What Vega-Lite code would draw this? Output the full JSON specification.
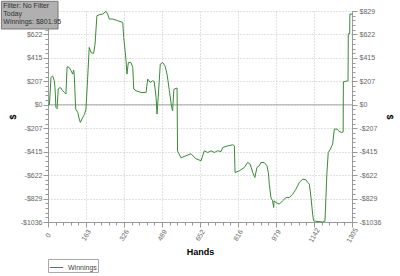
{
  "$schema": "https://vega.github.io/schema/vega-lite/v6.json",
  "width": 304,
  "height": 211,
  "autosize": {"type": "pad"},
  "padding": {"left": 0, "right": 0, "top": 0, "bottom": 0},
  "background": "white",
  "config": {
    "font": "Liberation Sans",
    "view": {"stroke": null},
    "axis": {
      "labelFont": "Liberation Sans",
      "labelFontSize": 7,
      "labelColor": "#666666",
      "domainColor": "#999999",
      "tickColor": "#999999",
      "gridColor": "#c4c4c4",
      "gridDash": [1, 2],
      "titleFont": "Liberation Sans",
      "titleFontSize": 9,
      "titleFontWeight": "bold",
      "titleColor": "#000000"
    },
    "legend": {
      "labelFont": "Liberation Sans",
      "labelFontSize": 7,
      "labelColor": "#444444"
    }
  },
  "datasets": {
    "winnings": [
      {"h": 0, "w": 0}, {"h": 6, "w": 0}, {"h": 13, "w": 241}, {"h": 20, "w": 256}, {"h": 27, "w": 212},
      {"h": 30, "w": 153}, {"h": 34, "w": -24}, {"h": 39, "w": -35}, {"h": 44, "w": 141}, {"h": 53, "w": 153},
      {"h": 63, "w": 124}, {"h": 70, "w": 109}, {"h": 77, "w": 95}, {"h": 82, "w": 336}, {"h": 91, "w": 330},
      {"h": 99, "w": 301}, {"h": 106, "w": 271}, {"h": 110, "w": 307}, {"h": 113, "w": 256}, {"h": 116, "w": 95},
      {"h": 119, "w": -38}, {"h": 128, "w": -68}, {"h": 134, "w": -126}, {"h": 139, "w": -156}, {"h": 149, "w": -112},
      {"h": 156, "w": -88}, {"h": 163, "w": -38}, {"h": 170, "w": 227}, {"h": 177, "w": 507}, {"h": 185, "w": 462},
      {"h": 196, "w": 454}, {"h": 202, "w": 537}, {"h": 210, "w": 787}, {"h": 220, "w": 796}, {"h": 235, "w": 802},
      {"h": 249, "w": 826}, {"h": 256, "w": 802}, {"h": 263, "w": 758}, {"h": 278, "w": 758}, {"h": 299, "w": 743},
      {"h": 321, "w": 728}, {"h": 325, "w": 595}, {"h": 331, "w": 477}, {"h": 335, "w": 389}, {"h": 339, "w": 271},
      {"h": 345, "w": 374}, {"h": 356, "w": 374}, {"h": 364, "w": 330}, {"h": 368, "w": 139}, {"h": 378, "w": 124},
      {"h": 399, "w": 109}, {"h": 421, "w": 109}, {"h": 428, "w": 227}, {"h": 439, "w": 197}, {"h": 449, "w": 212},
      {"h": 456, "w": 206}, {"h": 464, "w": 65}, {"h": 468, "w": -82}, {"h": 473, "w": 65}, {"h": 482, "w": 360},
      {"h": 492, "w": 374}, {"h": 502, "w": 345}, {"h": 511, "w": 271}, {"h": 521, "w": 124}, {"h": 531, "w": -24},
      {"h": 535, "w": -53}, {"h": 540, "w": 124}, {"h": 542, "w": 139}, {"h": 554, "w": 148}, {"h": 556, "w": -407},
      {"h": 571, "w": -469}, {"h": 592, "w": -451}, {"h": 614, "w": -433}, {"h": 635, "w": -477}, {"h": 657, "w": -495},
      {"h": 671, "w": -407}, {"h": 686, "w": -422}, {"h": 700, "w": -407}, {"h": 714, "w": -422}, {"h": 728, "w": -407},
      {"h": 743, "w": -413}, {"h": 750, "w": -378}, {"h": 771, "w": -363}, {"h": 793, "w": -354}, {"h": 800, "w": -363},
      {"h": 803, "w": -599}, {"h": 821, "w": -584}, {"h": 843, "w": -554}, {"h": 857, "w": -510}, {"h": 868, "w": -525},
      {"h": 879, "w": -599}, {"h": 888, "w": -643}, {"h": 897, "w": -554}, {"h": 907, "w": -539}, {"h": 914, "w": -510},
      {"h": 928, "w": -510}, {"h": 940, "w": -539}, {"h": 946, "w": -599}, {"h": 950, "w": -703}, {"h": 957, "w": -820},
      {"h": 964, "w": -849}, {"h": 969, "w": -908}, {"h": 970, "w": -849}, {"h": 979, "w": -864}, {"h": 993, "w": -878},
      {"h": 1007, "w": -849}, {"h": 1022, "w": -820}, {"h": 1036, "w": -820}, {"h": 1050, "w": -791}, {"h": 1064, "w": -747},
      {"h": 1079, "w": -687}, {"h": 1093, "w": -657}, {"h": 1107, "w": -663}, {"h": 1115, "w": -687}, {"h": 1122, "w": -703},
      {"h": 1129, "w": -820}, {"h": 1136, "w": -966}, {"h": 1140, "w": -1026}, {"h": 1150, "w": -1030}, {"h": 1164, "w": -1033},
      {"h": 1179, "w": -1036}, {"h": 1189, "w": -1028}, {"h": 1193, "w": -820}, {"h": 1197, "w": -613}, {"h": 1203, "w": -422},
      {"h": 1212, "w": -392}, {"h": 1222, "w": -347}, {"h": 1229, "w": -215}, {"h": 1241, "w": -215}, {"h": 1250, "w": -236},
      {"h": 1261, "w": -245}, {"h": 1267, "w": -240}, {"h": 1268, "w": 203}, {"h": 1288, "w": 212}, {"h": 1289, "w": 628},
      {"h": 1295, "w": 628}, {"h": 1296, "w": 802}, {"h": 1305, "w": 802}
    ]
  },
  "layer": [
    {
      "data": {"values": [{"zero": 0}]},
      "mark": {"type": "rule", "color": "#aaaaaa", "strokeWidth": 1},
      "encoding": {
        "y": {
          "field": "zero",
          "type": "quantitative",
          "scale": {"domain": [-1036.25, 829], "nice": false, "zero": false},
          "axis": {
            "orient": "right",
            "title": "$",
            "titlePadding": 4,
            "values": [-1036.25, -994.8, -953.35, -911.9, -870.45, -829, -787.55, -746.1, -704.65, -663.2, -621.75, -580.3, -538.85, -497.4, -455.95, -414.5, -373.05, -331.6, -290.15, -248.7, -207.25, -165.8, -124.35, -82.9, -41.45, 0, 41.45, 82.9, 124.35, 165.8, 207.25, 248.7, 290.15, 331.6, 373.05, 414.5, 455.95, 497.4, 538.85, 580.3, 621.75, 663.2, 704.65, 746.1, 787.55, 829],
            "labelExpr": "abs(datum.value/207.25 - round(datum.value/207.25)) < 0.01 ? ['-$1036','-$829','-$622','-$415','-$207','$0','$207','$415','$622','$829'][round(datum.value/207.25)+5] : ''",
            "tickSize": {"condition": {"test": "abs(datum.value/207.25 - round(datum.value/207.25)) < 0.01", "value": 5}, "value": 3},
            "grid": false,
            "labelPadding": 2,
            "labelOverlap": false,
            "labelAlign": "left"
          }
        }
      }
    },
    {
      "data": {"name": "winnings"},
      "mark": {"type": "line", "strokeWidth": 1, "interpolate": "linear"},
      "encoding": {
        "x": {
          "field": "h",
          "type": "quantitative",
          "scale": {"domain": [0, 1305], "nice": false, "zero": false},
          "axis": {
            "orient": "bottom",
            "title": "Hands",
            "titlePadding": 4,
            "values": [0, 32.625, 65.25, 97.875, 130.5, 163.125, 195.75, 228.375, 261, 293.625, 326.25, 358.875, 391.5, 424.125, 456.75, 489.375, 522, 554.625, 587.25, 619.875, 652.5, 685.125, 717.75, 750.375, 783, 815.625, 848.25, 880.875, 913.5, 946.125, 978.75, 1011.375, 1044, 1076.625, 1109.25, 1141.875, 1174.5, 1207.125, 1239.75, 1272.375, 1305],
            "labelExpr": "abs(datum.value/163.125 - round(datum.value/163.125)) < 0.01 ? ['0','163','326','489','652','816','979','1142','1305'][round(datum.value/163.125)] : ''",
            "tickSize": {"condition": {"test": "abs(datum.value/163.125 - round(datum.value/163.125)) < 0.01", "value": 5}, "value": 3},
            "grid": true,
            "gridOpacity": {"condition": {"test": "abs(datum.value/163.125 - round(datum.value/163.125)) < 0.01", "value": 1}, "value": 0},
            "labelAngle": -60,
            "labelAlign": "center",
            "labelBaseline": "middle",
            "labelPadding": 8,
            "labelFlush": false,
            "labelOverlap": false
          }
        },
        "y": {
          "field": "w",
          "type": "quantitative",
          "scale": {"domain": [-1036.25, 829], "nice": false, "zero": false},
          "axis": {
            "orient": "left",
            "title": "$",
            "titlePadding": 3,
            "values": [-1036.25, -994.8, -953.35, -911.9, -870.45, -829, -787.55, -746.1, -704.65, -663.2, -621.75, -580.3, -538.85, -497.4, -455.95, -414.5, -373.05, -331.6, -290.15, -248.7, -207.25, -165.8, -124.35, -82.9, -41.45, 0, 41.45, 82.9, 124.35, 165.8, 207.25, 248.7, 290.15, 331.6, 373.05, 414.5, 455.95, 497.4, 538.85, 580.3, 621.75, 663.2, 704.65, 746.1, 787.55, 829],
            "labelExpr": "abs(datum.value/207.25 - round(datum.value/207.25)) < 0.01 ? ['-$1036','-$829','-$622','-$415','-$207','$0','$207','$415','$622',''][round(datum.value/207.25)+5] : ''",
            "tickSize": {"condition": {"test": "abs(datum.value/207.25 - round(datum.value/207.25)) < 0.01", "value": 5}, "value": 3},
            "grid": true,
            "gridOpacity": {"condition": {"test": "abs(datum.value/207.25 - round(datum.value/207.25)) < 0.01", "value": 1}, "value": 0},
            "labelOverlap": false,
            "labelPadding": 1
          }
        },
        "color": {
          "datum": "Winnings",
          "type": "nominal",
          "scale": {"range": ["#3a8a3a"]},
          "legend": {
            "title": null,
            "orient": "bottom",
            "strokeColor": "#aaaaaa",
            "padding": 1,
            "symbolType": "stroke",
            "symbolSize": 180,
            "symbolStrokeWidth": 1,
            "labelOffset": 4,
            "offset": 2
          }
        }
      }
    },
    {
      "data": {"values": [{"box": "info"}]},
      "mark": {"type": "rect", "fill": "#b0b0b0", "stroke": "#777777", "strokeWidth": 1},
      "encoding": {
        "x": {"datum": -200, "type": "quantitative", "axis": null},
        "x2": {"datum": 43},
        "y": {"datum": 915, "type": "quantitative", "axis": null},
        "y2": {"datum": 670}
      }
    },
    {
      "data": {"values": [{"box": "info"}]},
      "mark": {"type": "text", "align": "left", "baseline": "top", "fontSize": 7, "color": "#333333", "lineHeight": 8, "font": "Liberation Sans"},
      "encoding": {
        "x": {"datum": -192, "type": "quantitative", "axis": null},
        "y": {"datum": 908, "type": "quantitative", "axis": null},
        "text": {"value": ["Filter: No Filter", "Today", "Winnings: $801.95"]}
      }
    }
  ],
  "resolve": {"axis": {"y": "independent", "x": "independent"}}
}
